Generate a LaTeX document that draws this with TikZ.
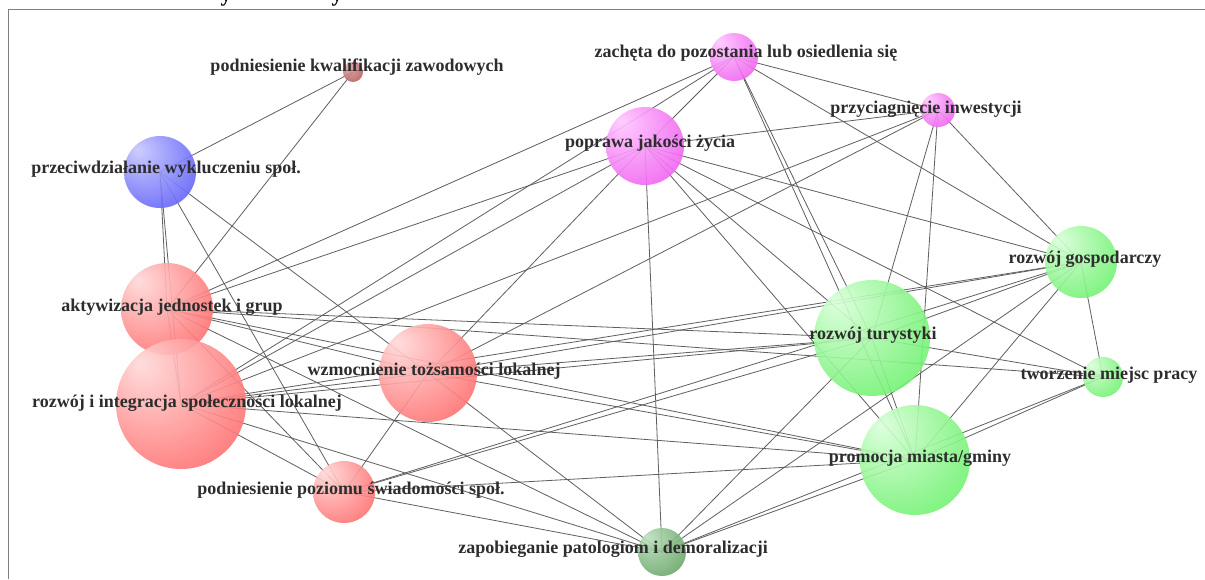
\documentclass[tikz,border=0pt]{standalone}
\usepackage{fontspec}
\setmainfont{Liberation Serif}
\pgfdeclarelayer{bg}
\pgfdeclarelayer{edges}
\pgfsetlayers{bg,edges,main}
\definecolor{redL}{RGB}{255,218,218}\definecolor{redD}{RGB}{255,30,30}
\definecolor{bluL}{RGB}{200,200,255}\definecolor{bluD}{RGB}{20,20,245}
\definecolor{magL}{RGB}{255,200,255}\definecolor{magD}{RGB}{230,20,230}
\definecolor{grnL}{RGB}{218,255,218}\definecolor{grnD}{RGB}{30,232,30}
\definecolor{dgrL}{RGB}{190,225,190}\definecolor{dgrD}{RGB}{40,120,40}
\definecolor{drdL}{RGB}{230,170,170}\definecolor{drdD}{RGB}{145,35,35}
\definecolor{edgecol}{RGB}{95,95,95}
\definecolor{labcol}{RGB}{45,45,45}
\pgfdeclareradialshading{shRed}{\pgfpoint{-16bp}{16bp}}{color(0bp)=(redL); color(64bp)=(redD)}
\pgfdeclareradialshading{shBlu}{\pgfpoint{-16bp}{16bp}}{color(0bp)=(bluL); color(64bp)=(bluD)}
\pgfdeclareradialshading{shMag}{\pgfpoint{-16bp}{16bp}}{color(0bp)=(magL); color(64bp)=(magD)}
\pgfdeclareradialshading{shGrn}{\pgfpoint{-16bp}{16bp}}{color(0bp)=(grnL); color(64bp)=(grnD)}
\pgfdeclareradialshading{shDgr}{\pgfpoint{-16bp}{16bp}}{color(0bp)=(dgrL); color(64bp)=(dgrD)}
\pgfdeclareradialshading{shDrd}{\pgfpoint{-16bp}{16bp}}{color(0bp)=(drdL); color(64bp)=(drdD)}
\begin{document}
\begin{tikzpicture}[x=1pt,y=-1pt,
  ball/.style={circle,inner sep=0pt,draw=none,opacity=0.9,minimum size=#1},
  lab/.style={anchor=base,inner sep=0pt,text=labcol,font=\fontsize{18}{20}\selectfont\bfseries},
  link/.style={draw=edgecol,line width=0.8pt}]
\useasboundingbox (0,0) rectangle (1205,579);
\begin{pgfonlayer}{bg}
\fill[white] (0,0) rectangle (1205,579);
\draw[gray,line width=1pt] (8,579) -- (8,9) -- (1205,9);
\end{pgfonlayer}
\node[lab,font=\fontsize{22}{24}\selectfont\bfseries,text=black] (t1) at (226,1) {y};
\node[lab,font=\fontsize{22}{24}\selectfont\bfseries,text=black] (t2) at (337,1) {y};
% nodes
\node[ball=20pt,shade,shading=shDrd] (K) at (353,72) {};
\node[ball=48pt,shade,shading=shMag] (Z) at (734,57) {};
\node[ball=34pt,shade,shading=shMag] (P) at (938,110) {};
\node[ball=78pt,shade,shading=shMag] (J) at (645,146) {};
\node[ball=72pt,shade,shading=shBlu] (W) at (160,172) {};
\node[ball=92pt,shade,shading=shRed] (A) at (167,309) {};
\node[ball=130pt,shade,shading=shRed] (R) at (181,404) {};
\node[ball=98pt,shade,shading=shRed] (T) at (428,373) {};
\node[ball=62pt,shade,shading=shRed] (S) at (344,492) {};
\node[ball=48pt,shade,shading=shDgr] (D) at (662,552) {};
\node[ball=110pt,shade,shading=shGrn] (M) at (915,460) {};
\node[ball=116pt,shade,shading=shGrn] (U) at (872,338) {};
\node[ball=72pt,shade,shading=shGrn] (G) at (1081,262) {};
\node[ball=40pt,shade,shading=shGrn] (C) at (1103,377) {};
% edges
\begin{pgfonlayer}{edges}
\foreach \a/\b in {K/W,K/A,
  Z/J,Z/P,Z/A,Z/R,Z/U,Z/M,Z/G,
  P/J,P/R,P/T,P/U,P/M,P/G,
  J/A,J/R,J/T,J/D,J/U,J/M,J/G,J/C,
  W/A,W/R,W/T,W/S,
  A/R,A/T,A/S,A/D,A/U,A/C,A/M,
  R/T,R/S,R/D,R/M,R/U,R/G,
  T/S,T/D,T/M,T/U,T/G,
  S/D,S/M,S/U,S/G,
  D/M,D/C,D/U,D/G,
  M/U,M/G,M/C,
  U/G,U/C,
  G/C}
  \draw[link] (\a.center) -- (\b.center);
\end{pgfonlayer}
% labels
\node[lab] (Kl) at (357,71) {podniesienie kwalifikacji zawodowych};
\node[lab] (Zl) at (746,57) {zachęta do pozostania lub osiedlenia się};
\node[lab] (Pl) at (926,113) {przyciagnięcie inwestycji};
\node[lab] (Jl) at (650,147) {poprawa jakości życia};
\node[lab] (Wl) at (166,173) {przeciwdziałanie wykluczeniu społ.};
\node[lab] (Al) at (172,311) {aktywizacja jednostek i grup};
\node[lab] (Rl) at (187,407) {rozwój i integracja społeczności lokalnej};
\node[lab] (Tl) at (434,375) {wzmocnienie tożsamości lokalnej};
\node[lab] (Sl) at (351,494) {podniesienie poziomu świadomości społ.};
\node[lab] (Dl) at (613,553) {zapobieganie patologiom i demoralizacji};
\node[lab] (Ml) at (920,462) {promocja miasta/gminy};
\node[lab] (Ul) at (873,339) {rozwój turystyki};
\node[lab] (Gl) at (1085,263) {rozwój gospodarczy};
\node[lab] (Cl) at (1109,379) {tworzenie miejsc pracy};
\end{tikzpicture}
\end{document}
